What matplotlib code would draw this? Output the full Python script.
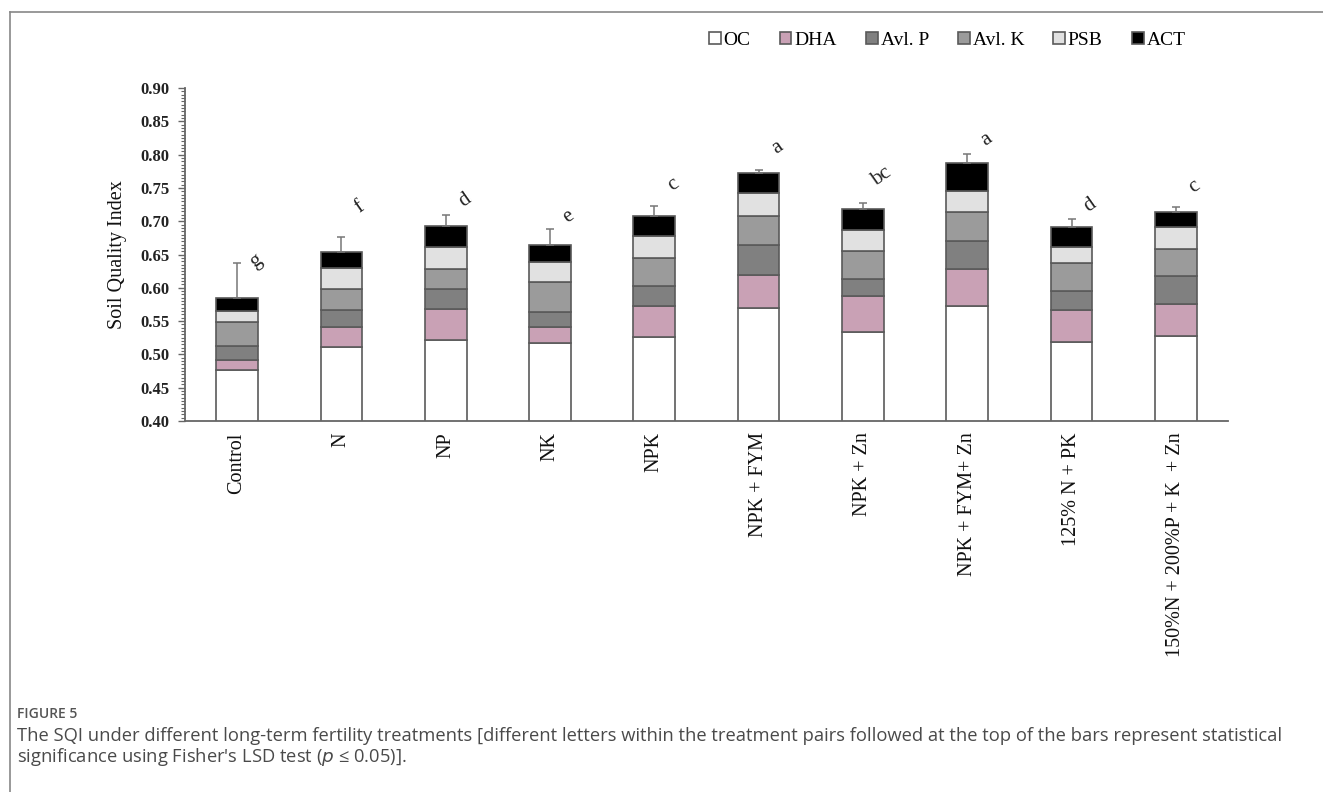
import numpy as np
import matplotlib
matplotlib.use("Agg")
import matplotlib.pyplot as plt
from matplotlib.ticker import MultipleLocator
from matplotlib.lines import Line2D

# ---------------------------------------------------------
# Data
# ---------------------------------------------------------
treatments = ["Control", "N", "NP", "NK", "NPK", "NPK + FYM", "NPK + Zn",
              "NPK + FYM+ Zn", "125% N + PK", "150%N + 200%P + K  + Zn"]
oc = [0.476, 0.511, 0.522, 0.517, 0.526, 0.570, 0.533, 0.573, 0.519, 0.528]
dha = [0.016, 0.030, 0.046, 0.024, 0.047, 0.049, 0.054, 0.055, 0.048, 0.047]
avl_p = [0.020, 0.026, 0.030, 0.023, 0.029, 0.045, 0.026, 0.043, 0.028, 0.042]
avl_k = [0.036, 0.031, 0.030, 0.044, 0.043, 0.044, 0.043, 0.043, 0.043, 0.041]
psb = [0.017, 0.031, 0.033, 0.031, 0.033, 0.034, 0.031, 0.032, 0.023, 0.034]
act = [0.019, 0.025, 0.032, 0.025, 0.030, 0.031, 0.031, 0.041, 0.030, 0.022]
err_up = [0.053, 0.022, 0.016, 0.024, 0.015, 0.004, 0.010, 0.014, 0.012, 0.007]
letters = ["g", "f", "d", "e", "c", "a", "bc", "a", "d", "c"]
letter_y = [0.640, 0.721, 0.732, 0.707, 0.755, 0.811, 0.767, 0.822, 0.724, 0.752]

series_names = ["OC", "DHA", "Avl. P", "Avl. K", "PSB", "ACT"]
series_vals = [oc, dha, avl_p, avl_k, psb, act]
series_cols = ["white", "#c9a1b5", "#808080", "#9b9b9b", "#e1e1e1", "black"]

serif = "Liberation Serif"

# ---------------------------------------------------------
# Plot
# ---------------------------------------------------------
fig = plt.figure(figsize=(13.23, 7.92), dpi=100)
ax = fig.add_axes([0.1398, 0.4684, 0.7884, 0.4205])

x = np.arange(len(treatments))
bottom = np.zeros(len(treatments))
handles = []
for name, vals, col in zip(series_names, series_vals, series_cols):
    vals = np.array(vals)
    h = ax.bar(x, vals, width=0.4, bottom=bottom, color=col,
               edgecolor="#5a5a5a", linewidth=1.2, label=name, zorder=2)
    handles.append(h)
    bottom = bottom + vals

ax.errorbar(x, bottom, yerr=[np.zeros(len(x)), err_up], fmt="none",
            ecolor="#777777", elinewidth=1.1, capsize=3, capthick=1.1, zorder=3)

for xi, lab, ly in zip(x, letters, letter_y):
    ax.text(xi + 0.18, ly, lab, ha="center", va="center", rotation=35,
            fontsize=15, family=serif, color="#222222")

ax.set_xlim(-0.5, len(treatments) - 0.5)
ax.set_ylim(0.40, 0.90)
ax.yaxis.set_major_locator(MultipleLocator(0.05))
ax.yaxis.set_minor_locator(MultipleLocator(0.005))
ax.set_yticklabels([f"{v:.2f}" for v in ax.get_yticks()])
ax.set_xticks(x)
ax.set_xticklabels(treatments, rotation=90, family=serif, fontsize=14.5,
                   color="#111111")
ax.tick_params(axis="x", length=0, pad=8)
ax.tick_params(axis="y", which="major", length=5, width=1, color="#666666",
               labelsize=12, pad=6)
ax.tick_params(axis="y", which="minor", length=3, width=0.8, color="#666666")
for lbl in ax.get_yticklabels():
    lbl.set_family(serif)
    lbl.set_fontweight("bold")
    lbl.set_color("#222222")

for side in ["top", "right"]:
    ax.spines[side].set_visible(False)
for side in ["left", "bottom"]:
    ax.spines[side].set_color("#666666")
    ax.spines[side].set_linewidth(1.3)

ax.set_ylabel("Soil Quality Index", family=serif, fontsize=14.5,
              color="#111111", labelpad=10)

fig.legend(handles=handles, labels=series_names, loc="center",
           bbox_to_anchor=(0.716, 0.949), ncol=6, frameon=False,
           prop={"family": serif, "size": 14}, handlelength=0.6,
           handleheight=0.6, handletextpad=0.15, columnspacing=1.5)

# page frame and caption
fig.add_artist(Line2D([0.0076, 0.0076], [0.0, 0.985], transform=fig.transFigure,
                      color="#888888", linewidth=1.2))
fig.add_artist(Line2D([0.0076, 1.0], [0.985, 0.985], transform=fig.transFigure,
                      color="#888888", linewidth=1.2))

fig.text(0.013, 0.099, "FIGURE 5", family="Open Sans", fontsize=10,
         fontweight="semibold", color="#555555", va="center")
fig.text(0.013, 0.071,
         "The SQI under different long-term fertility treatments [different letters "
         "within the treatment pairs followed at the top of the bars represent statistical",
         family="Open Sans", fontsize=13.2, color="#4a4a4a", va="center")
fig.text(0.013, 0.044, "significance using Fisher's LSD test ($p$ ≤ 0.05)].",
         family="Open Sans", fontsize=13.2, color="#4a4a4a", va="center")

fig.savefig("out.png", dpi=100, facecolor="white")
